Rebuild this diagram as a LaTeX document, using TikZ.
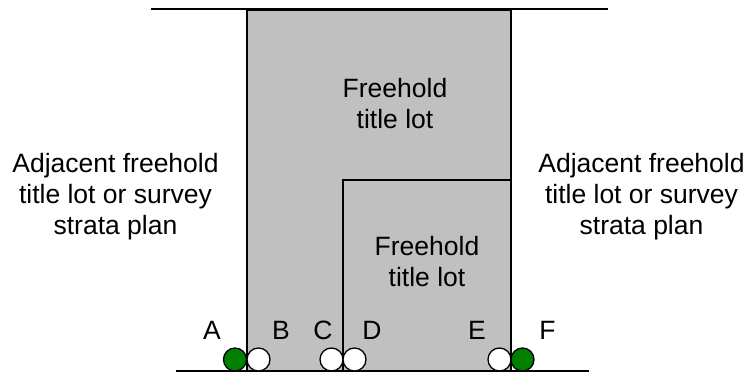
\documentclass[tikz,border=0pt]{standalone}
\usepackage{fontspec}
\setmainfont{Liberation Sans}
\usepackage{tikz}
\definecolor{lotgrey}{HTML}{C0C0C0}
\definecolor{pegreen}{HTML}{008000}

\begin{document}
\begin{tikzpicture}[
  x=1pt, y=-1pt,
  font=\fontsize{26.5}{31}\selectfont,
  lot/.style={draw=black, fill=lotgrey, line width=1.5pt},
  bound/.style={draw=black, line width=1.5pt},
  txt/.style={align=center, inner sep=0pt},
  lbl/.style={anchor=base, inner sep=0pt},
  peg/.style={circle, draw=black, line width=1.3pt, minimum size=23pt, inner sep=0pt},
]
\useasboundingbox (0,0) rectangle (749,374);
% road frontage and rear boundary
\draw[bound, line width=2.3pt] (151,9) -- (608,9);
% the two lots
\draw[lot] (247,10) rectangle (511,371);
\draw[lot] (343,180) rectangle (511,371);
\draw[bound] (176,371) -- (589,371);
\node[txt] (big) at (395,104) {Freehold\\title lot};
\node[txt] (small) at (427,262) {Freehold\\title lot};
\node[txt] (west) at (115.5,196.5) {Adjacent freehold\\title lot or survey\\strata plan};
\node[txt] (east) at (641.5,196.5) {Adjacent freehold\\title lot or survey\\strata plan};
% boundary pegs
\node[peg, fill=pegreen] (pA) at (235,359.5) {};
\node[peg, fill=white] (pB) at (258.5,359.5) {};
\node[peg, fill=white] (pC) at (331.5,359.5) {};
\node[peg, fill=white] (pD) at (354.5,359.5) {};
\node[peg, fill=white] (pE) at (499.5,359.5) {};
\node[peg, fill=pegreen] (pF) at (522.5,359.5) {};
\foreach \n/\x in {A/212,B/281,C/323,D/372,E/477,F/547.5}
  \node[lbl] (l\n) at (\x,339) {\n};
\end{tikzpicture}
\end{document}
